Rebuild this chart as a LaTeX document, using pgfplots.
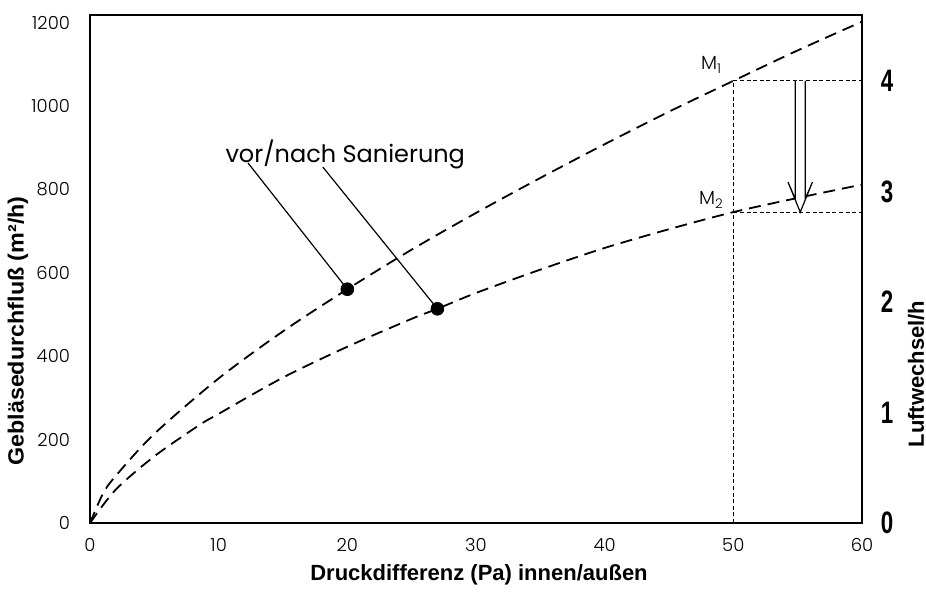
\documentclass[border=0pt]{standalone}
\usepackage{pgfplots}
\pgfplotsset{compat=1.18}
\usepackage{fontspec}
\setmainfont{Liberation Sans}
\newfontfamily\gothic{Poppins Light}
\newfontfamily\futura{Poppins}
\begin{document}
\begin{tikzpicture}
\path[use as bounding box] (-45pt,-36pt) rectangle (418pt,261.5pt);
\begin{axis}[
  at={(0,0)}, anchor=south west,
  scale only axis, width=386pt, height=254pt,
  xmin=0, xmax=60, ymin=0, ymax=1219,
  xtick={0,10,20,30,40,50,60},
  ytick={0,200,400,600,800,1000,1200},
  xtick pos=left, ytick pos=left,
  major tick length=0pt,
  axis line style={line width=0.6pt},
  /pgf/number format/assume math mode=true,
  /pgf/number format/1000 sep={},
  ticklabel style={font=\gothic\fontsize{9}{10}\selectfont},
  yticklabel style={xshift=-6.5pt},
  xticklabel style={yshift=-4pt},
  clip=false,
]
% measured curves
\addplot[smooth, line width=0.9pt, dash pattern=on 6pt off 3.5pt] coordinates {
 (0,0) (1,70) (2,113) (5,214) (10,347) (15,460) (20,561) (25,656) (30,744)
 (35,828) (40,909) (45,987) (50,1061) (55,1134) (60,1203)};
\addplot[smooth, line width=0.9pt, dash pattern=on 6pt off 3.5pt] coordinates {
 (0,0) (2,80) (5,160) (8.5,235) (10,262) (15,349) (20,423) (25,490) (27,514)
 (30,552) (35,608) (40,660) (45,705) (50,746) (55,780) (60,812)};
% reference lines
\draw[line width=0.5pt, dash pattern=on 2pt off 1.3pt] (axis cs:50,0) -- (axis cs:50,1061) -- (axis cs:60,1061);
\draw[line width=0.5pt, dash pattern=on 2pt off 1.3pt] (axis cs:50,746) -- (axis cs:60,746);
% hollow arrow
\draw[line width=0.6pt, fill=white]
  (axis cs:54.81,1061) -- (axis cs:54.81,778) -- (axis cs:54.25,818) -- (axis cs:55.2,746)
  -- (axis cs:56.15,818) -- (axis cs:55.59,778) -- (axis cs:55.59,1061);
\node[font=\gothic\fontsize{9.5}{10}\selectfont] at (axis cs:48.3,1099) {M\textsubscript{1}};
\node[font=\gothic\fontsize{9.5}{10}\selectfont] at (axis cs:48.3,775) {M\textsubscript{2}};
% annotation
\draw[line width=0.6pt] (axis cs:12.28,864) -- (axis cs:20,561);
\draw[line width=0.6pt] (axis cs:18.1,854) -- (axis cs:27,514);
\addplot[only marks, mark=*, mark size=3.2pt] coordinates {(20,561) (27,514)};
\node[anchor=base west, inner sep=0pt, font=\futura\fontsize{12}{14}\selectfont] at (axis cs:10.5,866) {vor/nach Sanierung};
\end{axis}
\begin{axis}[
  at={(0,0)}, anchor=south west,
  scale only axis, width=386pt, height=254pt,
  xmin=0, xmax=60, ymin=0, ymax=4.597,
  axis x line=none, axis y line*=right,
  ytick={0,1,2,3,4},
  major tick length=0pt,
  axis line style={line width=0.6pt},
  /pgf/number format/assume math mode=true,
  yticklabel style={anchor=center, xshift=12.5pt, font=\bfseries\fontsize{15.5}{16}\selectfont},
  yticklabel={\scalebox{0.72}[1]{\pgfmathprintnumber{\tick}}},
]
\end{axis}
\node[font=\bfseries\fontsize{11}{12}\selectfont] at (194.5pt,-26pt) {Druckdifferenz (Pa) innen/außen};
\node[rotate=90, font=\bfseries\fontsize{11}{12}\selectfont] at (-36pt,96pt) {\scalebox{1.06}[1]{Gebläsedurchfluß (m²/h)}};
\node[rotate=90, font=\bfseries\fontsize{11}{12}\selectfont] at (413pt,74.5pt) {Luftwechsel/h};
\end{tikzpicture}
\end{document}
